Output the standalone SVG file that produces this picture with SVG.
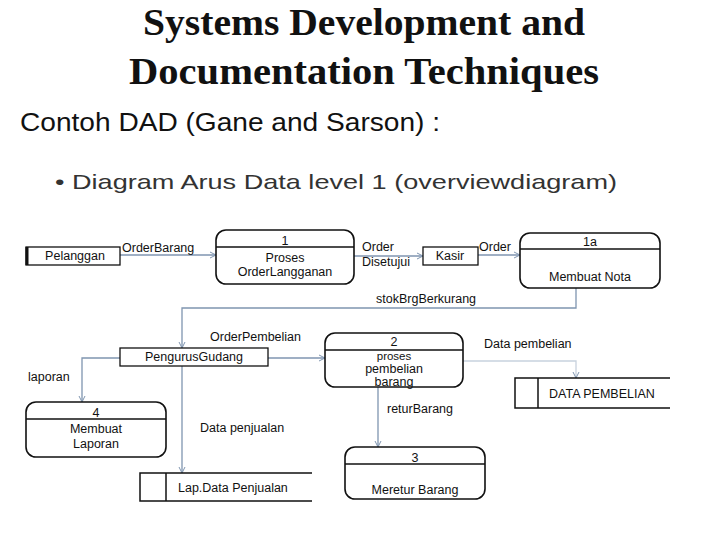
<svg xmlns="http://www.w3.org/2000/svg" width="720" height="540" viewBox="0 0 720 540">
<defs>
<marker id="ah" markerWidth="8" markerHeight="8" refX="7" refY="4" orient="auto" markerUnits="userSpaceOnUse"><path d="M1,1 L7,4 L1,7" fill="none" stroke="#7f95b0" stroke-width="1"/></marker>
</defs>
<style>
text{font-family:"Liberation Sans",Arial,sans-serif;fill:#111}
.t{font-size:12.5px}
.c{text-anchor:middle}
.p{fill:#fff;stroke:#111;stroke-width:1.6}
.b{fill:#fff;stroke:#111;stroke-width:1.3}
.f{fill:none;stroke:#7f95b0;stroke-width:1.3}
.d{stroke:#111;stroke-width:1.5}
</style>
<rect width="720" height="540" fill="#fff"/>
<text x="364" y="35" class="c" style="font-family:'Liberation Serif',serif;font-size:38px;font-weight:bold" textLength="442" lengthAdjust="spacingAndGlyphs">Systems Development and</text>
<text x="364" y="84" class="c" style="font-family:'Liberation Serif',serif;font-size:38px;font-weight:bold" textLength="470" lengthAdjust="spacingAndGlyphs">Documentation Techniques</text>
<text x="20" y="131" style="font-size:25px" textLength="420" lengthAdjust="spacingAndGlyphs">Contoh DAD (Gane and Sarson) :</text>
<text x="55" y="189" style="font-size:21px;fill:#333" textLength="562" lengthAdjust="spacingAndGlyphs">•  Diagram Arus Data level 1 (overviewdiagram)</text>

<g id="connectors">
<line class="f" x1="120" y1="255" x2="216" y2="255" marker-end="url(#ah)"/>
<line class="f" x1="354" y1="256" x2="423" y2="256" marker-end="url(#ah)"/>
<line class="f" x1="478" y1="255" x2="520" y2="255" marker-end="url(#ah)"/>
<polyline class="f" points="576,288 576,308 182,308 182,348" marker-end="url(#ah)"/>
<line class="f" x1="268" y1="358" x2="325" y2="358" marker-end="url(#ah)"/>
<polyline class="f" points="463,361 576,361 576,378" marker-end="url(#ah)" style="stroke:#c8d2de"/>
<line class="f" x1="182" y1="366" x2="182" y2="473" marker-end="url(#ah)"/>
<polyline class="f" points="120,358 82,358 82,402" marker-end="url(#ah)"/>
<line class="f" x1="378" y1="387" x2="378" y2="447" marker-end="url(#ah)"/>
<text class="t" x="122" y="252">OrderBarang</text>
<text class="t" x="362" y="251">Order</text>
<text class="t" x="362" y="266">Disetujui</text>
<text class="t" x="479" y="251">Order</text>
<text class="t" x="376" y="303">stokBrgBerkurang</text>
<text class="t" x="210" y="341">OrderPembelian</text>
<text class="t" x="484" y="348">Data pembelian</text>
<text class="t" x="28" y="381">laporan</text>
<text class="t" x="200" y="432">Data  penjualan</text>
<text class="t" x="387" y="413">returBarang</text>
</g>

<g id="pelanggan"><rect class="b" x="26" y="247" width="94" height="18"/><line class="d" x1="27" y1="247" x2="27" y2="265" style="stroke-width:3"/><text class="t c" x="75" y="260">Pelanggan</text></g>
<g id="p1"><rect class="p" x="216" y="230" width="138" height="54" rx="10"/><line class="d" x1="216" y1="247" x2="354" y2="247"/><text class="t c" x="285" y="245">1</text><text class="t c" x="285" y="262">Proses</text><text class="t c" x="285" y="276">OrderLangganan</text></g>
<g id="kasir"><rect class="b" x="423" y="247" width="55" height="18"/><text class="t c" x="450" y="260">Kasir</text></g>
<g id="p1a"><rect class="p" x="520" y="233" width="140" height="55" rx="10"/><line class="d" x1="520" y1="249" x2="660" y2="249"/><text class="t c" x="590" y="246">1a</text><text class="t c" x="590" y="281">Membuat Nota</text></g>
<g id="gudang"><rect class="b" x="120" y="348" width="148" height="18"/><text class="t c" x="194" y="361">PengurusGudang</text></g>
<g id="p2"><rect class="p" x="325" y="333" width="138" height="54" rx="10"/><line class="d" x1="325" y1="350" x2="463" y2="350"/><text class="t c" x="394" y="346">2</text><text class="t c" x="394" y="360" style="font-size:11.5px">proses</text><text class="t c" x="394" y="373">pembelian</text><text class="t c" x="394" y="386">barang</text></g>
<g id="dpembelian"><polyline fill="none" stroke="#111" stroke-width="1.5" points="670,378 515,378 515,408 670,408"/><line class="d" x1="538" y1="378" x2="538" y2="408"/><text class="t" x="549" y="398">DATA PEMBELIAN</text></g>
<g id="p4"><rect class="p" x="26" y="402" width="140" height="55" rx="10"/><line class="d" x1="26" y1="419" x2="166" y2="419"/><text class="t c" x="96" y="417">4</text><text class="t c" x="96" y="433">Membuat</text><text class="t c" x="96" y="448">Laporan</text></g>
<g id="lapdata"><polyline fill="none" stroke="#111" stroke-width="1.5" points="312,473 140,473 140,501 312,501"/><line class="d" x1="166" y1="473" x2="166" y2="501"/><text class="t" x="178" y="492">Lap.Data Penjualan</text></g>
<g id="p3"><rect class="p" x="345" y="447" width="140" height="52" rx="10"/><line class="d" x1="345" y1="464" x2="485" y2="464"/><text class="t c" x="415" y="462">3</text><text class="t c" x="415" y="494">Meretur Barang</text></g>
</svg>
